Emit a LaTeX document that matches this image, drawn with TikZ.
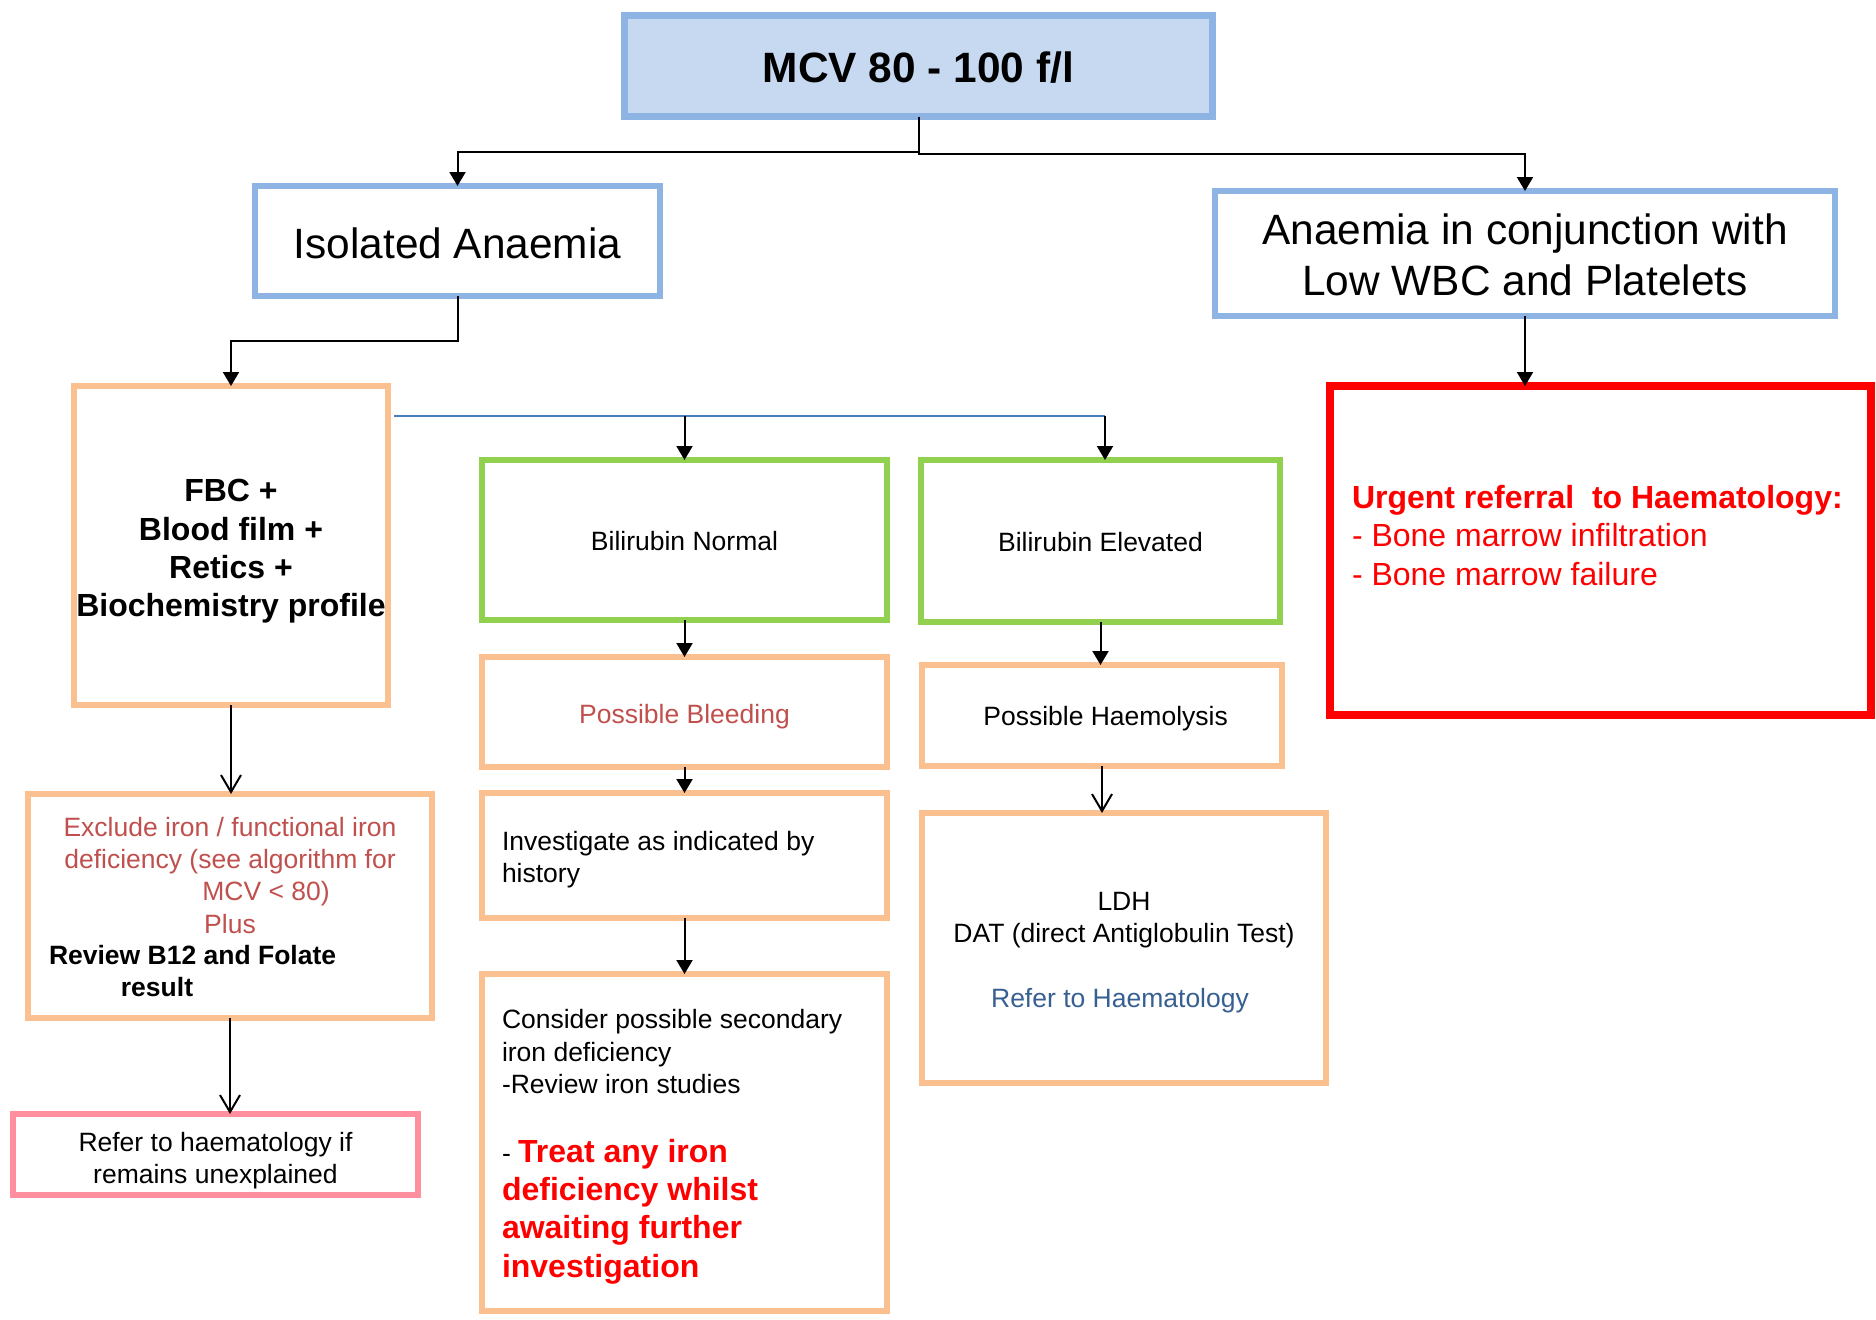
\documentclass[tikz,border=0pt]{standalone}
\usepackage{fontspec}
\setmainfont{Liberation Sans}
\usetikzlibrary{arrows.meta}
\definecolor{bluebd}{HTML}{8EB4E3}
\definecolor{bluefill}{HTML}{C6D9F1}
\definecolor{orangebd}{HTML}{FAC090}
\definecolor{greenbd}{HTML}{92D050}
\definecolor{pinkbd}{HTML}{FF8F9F}
\definecolor{brick}{HTML}{C0504D}
\definecolor{navy}{HTML}{376092}
\definecolor{linkblue}{HTML}{4A7EBB}
\newcommand{\myfA}{\fontsize{21.2pt}{25.5pt}\selectfont}
\newcommand{\myfB}{\fontsize{16pt}{19.2pt}\selectfont}
\newcommand{\myfC}{\fontsize{13.25pt}{16pt}\selectfont}
\begin{document}
\begin{tikzpicture}[x=0.5pt,y=-0.5pt,
  box/.style={draw, inner sep=0pt, outer sep=0pt, line width=3pt, fill=white},
  bluebox/.style={box, draw=bluebd},
  orbox/.style={box, draw=orangebd},
  grbox/.style={box, draw=greenbd},
  mtxt/.style={inner sep=0pt, outer sep=0pt, align=center},
  conn/.style={line width=1pt, draw=black},
  arr/.style={conn, -{Triangle[length=7pt,width=8pt]}},
  oarr/.style={conn, -{Straight Barb[length=8.5pt,width=10pt]}},
  ltxt/.style={anchor=base west, inner sep=0pt, outer sep=0pt},
  ctxt/.style={anchor=base, inner sep=0pt, outer sep=0pt},
]
\useasboundingbox (0,0) rectangle (1876,1319);

% boxes
\node[bluebox, fill=bluefill, line width=3.5pt, minimum width=294pt, minimum height=50.5pt] (mcv) at (918.5,66) {};
\node[bluebox, minimum width=202.5pt, minimum height=55pt] (iso) at (457.5,241) {};
\node[bluebox, minimum width=310pt, minimum height=62.5pt] (conj) at (1525,253.5) {};
\node[box, draw=red, line width=4pt, minimum width=270.5pt, minimum height=164.5pt] (urg) at (1600.5,550.5) {};
\node[orbox, minimum width=157pt, minimum height=159.5pt] (fbc) at (231,545.5) {};
\node[grbox, minimum width=202.5pt, minimum height=80pt] (biln) at (684.5,540) {};
\node[grbox, minimum width=179.5pt, minimum height=81pt] (bile) at (1100.5,541) {};
\node[orbox, minimum width=202.5pt, minimum height=55pt] (bleed) at (684.5,712) {};
\node[orbox, minimum width=180pt, minimum height=50.5pt] (haem) at (1102,715.5) {};
\node[orbox, minimum width=202.5pt, minimum height=62.5pt] (inv) at (684.5,855.5) {};
\node[orbox, minimum width=202.5pt, minimum height=168.5pt] (cons) at (684.5,1142.5) {};
\node[orbox, minimum width=202pt, minimum height=135pt] (ldh) at (1124,948) {};
\node[orbox, minimum width=202pt, minimum height=112pt] (excl) at (230,906) {};
\node[box, draw=pinkbd, minimum width=202.5pt, minimum height=40.5pt] (refer) at (215.5,1154.5) {};

% centred texts
\node[mtxt, font=\myfA\bfseries] (mcvt) at ([yshift=-0.6pt]mcv.center) {MCV 80 - 100 f/l};
\node[mtxt, font=\myfA] (isot) at ([yshift=-1.2pt]iso.center) {Isolated Anaemia};
\node[mtxt, font=\myfA] (conjt) at ([yshift=-0.6pt]conj.center) {Anaemia in conjunction with\\Low WBC and Platelets};
\node[mtxt, font=\myfB\bfseries] (fbct) at ([yshift=-3pt]fbc.center) {FBC +\\Blood film +\\Retics +\\Biochemistry profile};
\node[mtxt, font=\myfC] (bilnt) at ([yshift=-0.6pt]biln.center) {Bilirubin Normal};
\node[mtxt, font=\myfC] (bilet) at ([yshift=-0.6pt]bile.center) {Bilirubin Elevated};
\node[mtxt, font=\myfC, text=brick] (bleedt) at ([yshift=-2.4pt]bleed.center) {Possible Bleeding};
\node[mtxt, font=\myfC] (haemt) at ([xshift=1.8pt,yshift=-1.8pt]haem.center) {Possible Haemolysis};
\node[mtxt, font=\myfC] (refert) at ([yshift=-3pt]refer.center) {Refer to haematology if\\remains unexplained};

% texts
\node[ltxt, font=\myfB\bfseries, text=red] (u1) at (1352,508.5) {Urgent referral\ \ to Haematology:};
\node[ltxt, font=\myfB, text=red] (u2) at (1352,546.5) {- Bone marrow infiltration};
\node[ltxt, font=\myfB, text=red] (u3) at (1352,585.5) {- Bone marrow failure};

\node[ltxt, font=\myfC] (i1) at (502,850.5) {Investigate as indicated by};
\node[ltxt, font=\myfC] (i2) at (502,882.5) {history};

\node[ltxt, font=\myfC] (c1) at (502,1028.5) {Consider possible secondary};
\node[ltxt, font=\myfC] (c2) at (502,1061.5) {iron deficiency};
\node[ltxt, font=\myfC] (c3) at (502,1093.5) {-Review iron studies};
\node[ltxt, font=\myfB\bfseries, text=red] (c4) at (502,1162.5) {{\color{black}\myfC\mdseries -\ }Treat any iron};
\node[ltxt, font=\myfB\bfseries, text=red] (c5) at (502,1200.5) {deficiency whilst};
\node[ltxt, font=\myfB\bfseries, text=red] (c6) at (502,1238.5) {awaiting further};
\node[ltxt, font=\myfB\bfseries, text=red] (c7) at (502,1277.5) {investigation};

\node[ctxt, font=\myfC] (l1) at (1124,910.5) {LDH};
\node[ctxt, font=\myfC] (l2) at (1124,942.5) {DAT (direct Antiglobulin Test)};
\node[ctxt, font=\myfC, text=navy] (l3) at (1120,1007.5) {Refer to Haematology};

\node[ctxt, font=\myfC, text=brick] (e1) at (230,836.5) {Exclude iron / functional iron};
\node[ctxt, font=\myfC, text=brick] (e2) at (230,868.5) {deficiency (see algorithm for};
\node[ctxt, font=\myfC, text=brick] (e3) at (266,900.5) {MCV < 80)};
\node[ctxt, font=\myfC, text=brick] (e4) at (230,933.5) {Plus};
\node[ltxt, font=\myfC\bfseries] (e5) at (49,964.5) {Review B12 and Folate};
\node[ctxt, font=\myfC\bfseries] (e6) at (157,996.5) {result};

% connectors
\coordinate (j1) at (918.5,152);
\coordinate (j2) at (918.5,154);
\draw[arr] (mcv.south) -- (j1) -| (iso.north);
\draw[arr] (mcv.south) -- (j2) -| (conj.north);
\coordinate (j3) at (457.5,341);
\draw[arr] (iso.south) -- (j3) -| (fbc.north);
\draw[arr] (conj.south) -- (conj.south |- urg.north);

\coordinate (b0) at (394,416);
\coordinate (b1) at (1105,416);
\coordinate (b2) at (684.5,416);
\draw[line width=1pt, linkblue] (b0) -- (b1);
\draw[arr] (b2) -- (biln.north);
\draw[arr] (b1) -- (b1 |- bile.north);

\draw[arr] (biln.south) -- (bleed.north);
\draw[arr] (bleed.south) -- (inv.north);
\draw[arr] (inv.south) -- (cons.north);
\draw[arr] (bile.south) -- (bile.south |- haem.north);
\draw[oarr] (haem.south) -- (haem.south |- ldh.north);

\draw[oarr] (fbc.south) -- (fbc.south |- excl.north);
\draw[oarr] (excl.south) -- (excl.south |- refer.north);
\end{tikzpicture}
\end{document}
